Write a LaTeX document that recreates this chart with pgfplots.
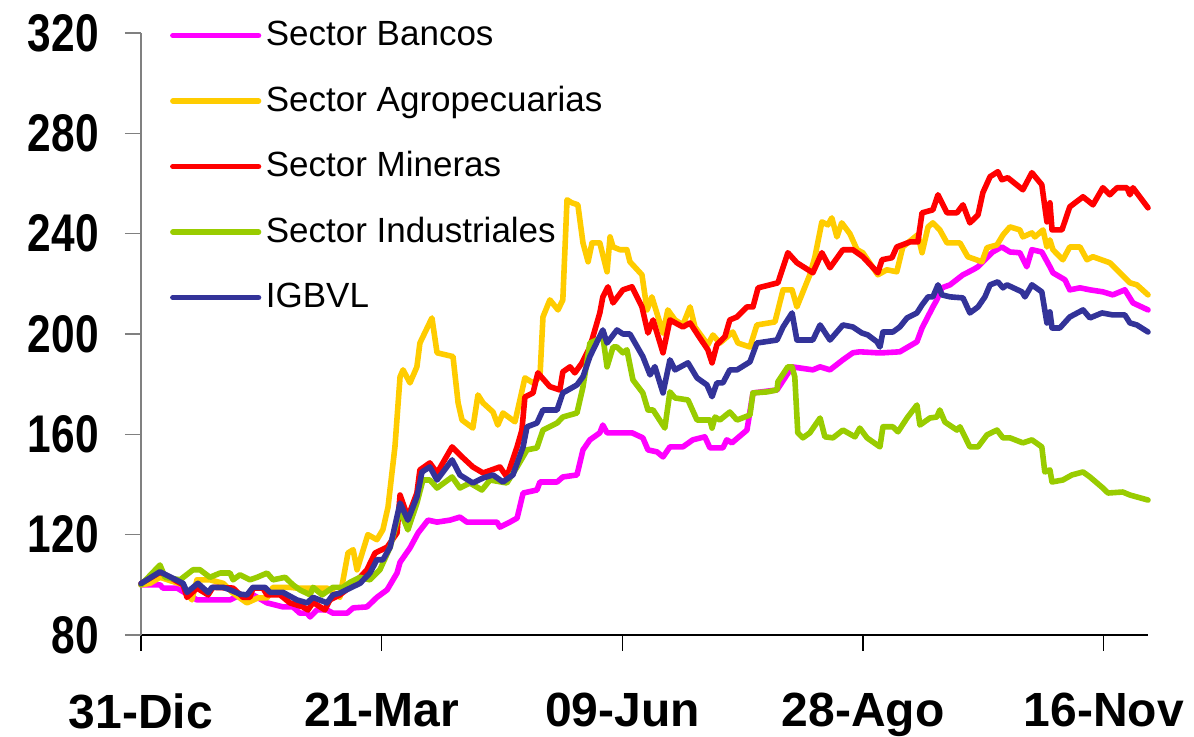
\documentclass[border=0pt]{standalone}
\usepackage{fontspec}
\setmainfont{Liberation Sans}
\newfontface\ytickfont[FakeStretch=0.8]{Liberation Sans Bold}
\usepackage{pgfplots}
\pgfplotsset{compat=1.18}

\definecolor{bancos}{RGB}{255,0,255}
\definecolor{agro}{RGB}{255,204,0}
\definecolor{mineras}{RGB}{255,0,0}
\definecolor{indus}{RGB}{153,204,0}
\definecolor{igbvl}{RGB}{51,51,153}

\begin{document}
\begin{tikzpicture}
\useasboundingbox (0,0) rectangle (597pt,368.5pt);
\begin{axis}[
  at={(70.5pt,51pt)}, anchor=south west,
  scale only axis, width=503.5pt, height=301pt,
  xmin=0, xmax=334.7, ymin=80, ymax=320,
  clip=false,
  axis lines=left, axis line style={-},
  x axis line style={black, line width=0.6pt},
  y axis line style={gray, line width=0.6pt},
  tick align=outside, major tick length=8pt,
  xtick={0,80,160,240,320},
  xticklabels={31-Dic,21-Mar,09-Jun,28-Ago,16-Nov},
  ytick={80,120,...,320},
  xtick style={black, line width=0.6pt},
  ytick style={gray, line width=0.6pt},
  /pgf/number format/assume math mode=true,
  xticklabel style={font=\fontsize{24pt}{24pt}\selectfont\bfseries, inner sep=0pt, anchor=north, yshift=-21pt},
  yticklabel style={font=\fontsize{26.5pt}{26.5pt}\ytickfont, inner sep=0pt, anchor=east, xshift=-13pt},
  legend cell align=left,
  legend style={draw=none, fill=none, at={(0.0285,1.021)}, anchor=north west,
    inner sep=0pt, column sep=2.3pt, row sep=17.95pt,
    font=\fontsize{17.5pt}{17.5pt}\selectfont,
    nodes={inner sep=0pt, text height=12.5pt, text depth=2.3pt}},
  legend image code/.code={\draw[#1] (0pt,0pt) -- (42.8pt,0pt);},
  every axis plot/.append style={line width=2.8pt, line join=round, line cap=round},
]

% Sector Bancos
\addplot[bancos] table {
0 100
6.3 100
7.3 98.7
12.0 98.7
18.6 94
21.9 94
29.6 94
32.9 96
37.2 96
41.9 92.8
47.2 91.2
50.5 91.2
52.8 88.7
55.2 88.7
56.2 87.2
58.5 90
61.8 90
63.8 88.7
68.5 88.7
70.5 90.8
75.1 91.2
78.4 95
81.8 98
85.1 104.7
86.1 109
89.4 114.7
92.1 120.7
95.4 125.8
98.4 125
102.7 125.8
106.0 127
108.3 125
112.7 125
118.3 125
119.3 123
122.6 125
125.0 126.6
127.0 136.6
131.6 137.8
132.6 141
138.3 141
140.2 143
144.9 143.8
146.9 153.8
149.2 157.8
152.5 160.6
153.5 163.7
154.9 160.6
163.2 160.6
166.8 158.6
168.5 153.8
171.5 153
173.5 151
175.8 155
180.1 155
183.4 157.8
187.4 159
189.1 154.6
193.4 154.6
194.7 157.8
196.4 156.6
201.4 161.7
203.4 176.5
211.4 177.7
216.4 186.9
223.3 185.7
225.7 186.9
229.0 185.7
233.3 189.7
236.6 192.5
238.9 192.9
244.6 192.5
246.6 192.5
252.2 192.9
257.9 196.9
259.6 202.4
263.2 210.8
264.5 213.6
266.2 218.4
268.9 219.6
273.2 223.6
276.5 225.6
278.2 226.8
279.8 228.8
283.1 232.7
286.1 234.7
288.8 232.7
292.1 232.4
294.4 226.8
296.1 233.6
299.4 232.7
302.1 226.8
303.1 224.4
307.1 221.6
308.7 217.6
312.1 218.4
315.4 217.6
319.7 216.8
323.0 215.6
327.0 217.6
329.7 212.4
334.7 209.6
};
\addlegendentry{Sector Bancos}

% Sector Agropecuarias
\addplot[agro] table {
0 100
3.0 100.6
6.3 103
14.0 100
16.9 94
18.6 102
22.9 102
27.3 100.6
30.6 96.7
35.2 92.8
38.9 94.8
41.9 94.8
43.9 99
49.5 99
51.8 98.7
56.2 98.7
61.8 98.7
66.1 95
68.8 112.7
70.5 114
71.8 106
75.4 120
78.4 118
80.4 122
82.1 131
84.4 155
86.1 182.9
87.1 185.7
89.4 180.5
91.7 186.9
92.7 196.4
96.7 206.4
98.4 192.5
103.7 191
105.4 172.5
106.7 165.7
110.3 162.5
112.0 175.7
113.7 172.5
117.0 168.9
118.6 163.7
120.3 168.5
124.3 165
127.6 182.5
130.3 180.5
132.6 182.9
133.6 206.8
135.9 213.6
138.6 209.6
140.2 213.6
141.6 253.5
143.2 252.3
145.2 251.5
146.9 236.3
148.6 228.8
149.9 236.3
152.5 236.3
154.9 224.8
155.9 238.7
156.9 234.7
159.2 233.6
161.5 233.6
162.5 228.8
166.5 223.6
168.2 209.6
169.8 214.8
173.5 200.4
175.1 209.6
177.5 205.6
180.1 203.6
182.5 210.8
184.1 202.8
188.4 195.7
190.1 199.6
192.4 196.4
196.7 200.8
198.4 196.4
202.4 194.8
204.7 203.6
210.7 204.8
213.4 217.6
216.4 217.6
218.0 210.8
222.3 223.6
224.0 230.8
226.3 244.7
228.3 243.5
229.6 246.3
231.3 238.7
232.9 244.3
235.6 240
238.0 233.6
239.9 232.4
244.9 223.6
247.9 225.6
251.2 224.8
253.2 234.7
258.2 239.6
259.6 232.4
261.6 242.7
263.2 244.3
265.5 241.5
267.9 236.3
272.2 236.3
274.8 230.8
279.5 228.8
281.2 234.4
284.5 235.5
286.5 239.5
288.8 242.7
292.1 241.5
293.1 238.7
296.1 240.3
297.1 238.7
299.8 241.5
301.1 234.7
302.1 237.5
303.1 233.6
306.4 229.6
308.7 234.7
312.1 234.7
314.4 229.6
316.4 230.8
322.0 228.4
328.7 220.4
331.0 219.6
334.7 215.6
};
\addlegendentry{Sector Agropecuarias}

% Sector Mineras
\addplot[mineras] table {
0 100.5
6.3 105
9.6 103
14.0 100
15.3 95
18.6 98.7
22.3 96
23.9 99
30.6 98.7
33.9 95
36.2 95
37.2 98.7
40.5 98.7
41.9 96
46.2 96
49.5 92.8
53.8 91.2
55.5 90
57.2 93
61.1 90
62.8 94
66.1 96
70.5 100
75.1 106
77.8 112.7
81.8 115
85.1 120.7
86.1 135.8
88.7 127
91.7 136.6
92.7 145.8
96.0 148.6
98.4 144.6
103.4 155
106.7 151
110.3 147
113.7 144.6
119.3 147
121.6 143
125.0 155
126.6 161.7
127.6 174.9
130.3 176.5
131.9 184.5
135.9 179
139.2 177.7
140.2 184.9
142.6 186.9
144.2 184.5
146.6 188.5
149.2 194.8
152.5 208.4
153.5 214.8
155.2 218.8
156.9 212.4
160.2 217.6
163.2 218.8
166.5 210.8
168.5 200.4
170.2 205.6
173.5 192.5
175.8 205.6
180.1 202.8
182.5 204.4
185.1 199.6
188.4 193.7
189.8 188.5
191.4 195.7
194.1 199
195.7 205.6
198.1 206.8
201.4 210.8
203.4 210.8
205.1 218.4
211.7 220.4
215.0 232.4
218.0 228.4
223.3 224.4
226.3 232.4
229.0 226.4
233.3 233.6
236.6 233.6
239.9 230.8
244.9 224.4
246.3 229.6
249.6 230.4
251.2 234.7
255.6 236.7
258.2 236.7
259.6 248.3
263.2 249.5
264.9 255.5
267.9 248.3
271.2 248.3
273.2 251.5
275.5 244.3
278.2 247.5
279.8 256.3
282.2 262.7
284.8 264.7
286.1 261.5
288.1 262.3
293.1 257.5
296.1 264.3
299.4 259.5
301.1 244.7
302.1 252.3
302.8 241.5
306.1 241.5
308.7 250.7
313.1 254.7
316.4 251.5
319.7 258.3
322.0 255.5
324.4 258.3
327.7 258.3
328.7 255.5
329.7 258.3
334.7 250.3
};
\addlegendentry{Sector Mineras}

% Sector Industriales
\addplot[indus] table {
0 100
6.3 107.9
8.0 103
13.0 102
17.3 106
19.6 106
22.9 103
26.3 104.7
29.6 104.7
30.6 102
32.9 104
36.2 102
38.6 103
41.9 104.7
43.9 102
47.9 103
50.5 100
52.8 98
56.2 96
57.2 99
60.2 96
63.8 99
67.1 99
69.5 101
72.8 103
76.1 102
79.4 106
82.8 115
86.1 129.8
88.7 121.9
91.7 132.6
93.7 141.8
96.0 141.8
98.4 138.6
103.4 143
106.0 138.6
109.3 140.6
113.3 137.8
116.0 141.8
121.6 140.6
125.0 147
128.3 153.8
131.6 154.6
133.6 161.7
138.3 164.5
140.2 166.9
144.9 168.5
146.9 178.9
149.2 196.4
151.5 197.6
153.5 199
154.9 186.9
156.9 194.8
158.2 194.8
160.2 192.5
161.5 193.7
163.5 181.7
166.8 176.5
168.5 169.7
170.2 169.7
174.1 162.5
175.8 176.9
177.5 174.5
181.8 173.7
184.8 165.7
189.1 165.7
189.8 162.5
190.8 166.9
192.4 165.7
195.7 168.9
198.1 165.7
202.4 167.7
203.4 176.5
208.0 176.9
211.4 177.7
211.7 181
215.0 186.9
216.4 186.9
217.3 182.9
218.3 160.6
220.0 158.6
222.3 160.6
225.7 166.5
227.3 159
230.0 158.6
233.3 161.7
237.3 159
238.9 162.5
241.3 158.6
245.6 155
246.6 163
249.9 163
251.6 161
254.6 166.5
257.9 171.7
258.9 163.7
262.2 166.5
264.5 166.9
265.5 169.7
267.2 164.9
271.2 161.7
272.2 163
275.5 155
278.2 155
281.2 159.8
284.5 161.7
286.5 158.6
288.8 158.6
293.1 156.6
296.1 157.8
299.4 155
300.4 145
302.1 145.8
302.8 141
306.4 141.8
309.4 143.8
313.1 145
315.4 143
319.7 138.6
321.4 136.6
326.3 137
328.7 135.8
334.7 133.8
};
\addlegendentry{Sector Industriales}

% IGBVL
\addplot[igbvl] table {
0 100.5
6.3 105.2
14.0 100.6
15.3 97
18.9 100.6
22.3 97
23.6 99
27.3 99
29.6 98
32.9 96.3
35.2 96
37.2 99
41.2 99
42.9 97
47.2 97
51.8 94
55.2 92.8
57.2 95
61.8 92.8
63.8 96
66.1 96.7
69.5 98.7
72.8 100.6
76.1 104.7
78.4 110
80.4 110
82.8 115
86.1 132.6
88.7 125.8
91.7 135
93.4 145
96.0 147
98.4 141.8
103.4 149.8
106.0 143.8
110.3 140.6
113.7 142.6
117.0 143.8
120.3 141
123.6 143.8
127.0 155
128.3 163
131.6 164.5
133.6 169.7
138.3 169.7
140.2 176.5
144.9 179.7
146.9 183
149.2 191
153.5 201.6
154.9 196.4
158.2 201.6
160.2 200
162.5 200
166.8 191
169.2 183.7
170.8 187
173.5 176.5
175.8 189.7
177.5 185.7
181.8 188.5
184.8 182.5
188.1 179.7
189.8 175
191.4 180.5
193.4 180.5
195.7 185.7
198.1 185.7
202.4 188.9
204.7 196.4
211.4 197.6
213.4 202.8
216.4 208.4
218.0 197.6
223.3 197.6
225.7 203.6
229.0 197.6
233.3 203.6
236.6 202.8
239.6 200.4
241.6 199.6
244.6 196.9
245.6 194.8
246.6 200.8
249.9 200.8
252.2 202.8
254.6 206.4
257.9 208.4
259.6 211.6
261.6 214.8
263.2 214.8
264.9 219.6
266.2 215.6
268.9 214.8
273.2 214.4
275.5 208.4
278.2 210.8
280.5 214.8
282.2 219.6
284.8 220.8
286.5 218.4
287.8 219.6
292.8 216.8
293.8 214.8
296.1 219.6
299.4 216.8
301.1 204.4
302.1 208.8
302.8 202.4
305.4 202.4
308.7 206.8
313.1 209.6
315.4 206.4
319.4 208.4
323.0 207.6
327.0 207.6
328.7 204.4
331.0 203.6
334.7 200.8
};
\addlegendentry{IGBVL}

\end{axis}
\end{tikzpicture}
\end{document}
